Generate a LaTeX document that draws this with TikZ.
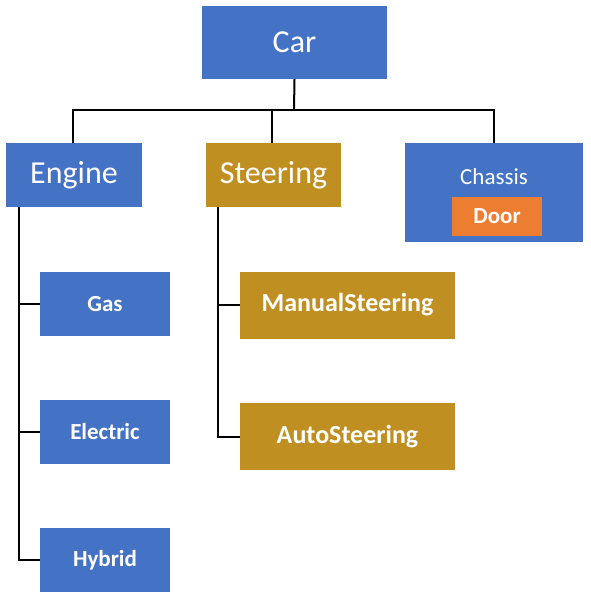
\documentclass[tikz,border=0pt]{standalone}
\usepackage{fontspec}
\setmainfont{Carlito}
\definecolor{carBlue}{HTML}{4472C4}
\definecolor{carGold}{HTML}{BF8F22}
\definecolor{carOrange}{HTML}{ED7D31}
\begin{document}
\begin{tikzpicture}[x=1pt,y=-1pt,
    box/.style={rectangle,inner sep=0pt,text=white},
    blueBox/.style={box,fill=carBlue},
    goldBox/.style={box,fill=carGold},
    big/.style={font=\fontsize{32}{32}\selectfont},
    small/.style={font=\bfseries\fontsize{23}{23}\selectfont},
    link/.style={line width=2pt}]
  \useasboundingbox (0,0) rectangle (591,595);
  % top level
  \node[blueBox,big,minimum width=185pt,minimum height=73pt] (car) at (294.5,42.5) {Car};
  \node[blueBox,big,minimum width=136pt,minimum height=64pt] (engine) at (74,175) {Engine};
  \node[goldBox,big,minimum width=135pt,minimum height=64pt] (steering) at (273.5,175) {Steering};
  \node[blueBox,minimum width=178pt,minimum height=99pt] (chassis) at (494,192.5) {};
  \node[box,font=\fontsize{23}{23}\selectfont] (chassisLbl) at (494,177) {Chassis};
  \node[box,small,fill=carOrange,minimum width=90pt,minimum height=39pt] (door) at (497,216.5) {Door};
  % engine kinds
  \foreach \name/\txt/\y in {gas/Gas/304,electric/Electric/432,hybrid/Hybrid/560}
    \node[blueBox,small,minimum width=130pt,minimum height=64pt] (\name) at (105,\y) {\txt};
  % steering kinds
  \node[goldBox,font=\bfseries\fontsize{26}{26}\selectfont,minimum width=215pt,minimum height=67pt] (manual) at (347.5,305) {ManualSteering};
  \node[goldBox,font=\bfseries\fontsize{26}{26}\selectfont,minimum width=215pt,minimum height=67pt] (auto) at (347.5,436.5) {AutoSteering};
  % connectors
  \coordinate (split) at (294,110);
  \draw[link] (car.south) -- (split);
  \draw[link] ([xshift=-1pt]engine.north) |- (split) -| (chassis.north);
  \draw[link] ([xshift=-1.5pt]steering.north) -- ([xshift=-1.5pt]steering.north |- split);
  \foreach \n in {gas,electric,hybrid}
    \draw[link] ([xshift=13pt]engine.south west) |- (\n.west);
  \foreach \n in {manual,auto}
    \draw[link] ([xshift=12pt]steering.south west) |- (\n.west);
\end{tikzpicture}
\end{document}
